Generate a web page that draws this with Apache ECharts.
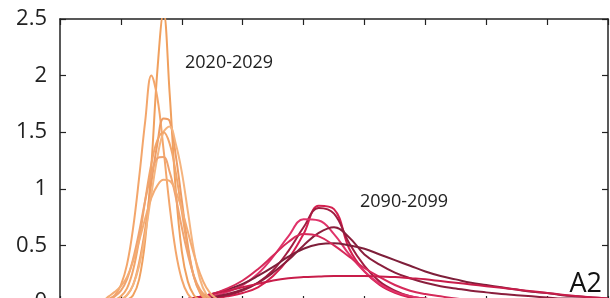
<!DOCTYPE html>
<html><head><meta charset="utf-8">
<script src="https://cdn.jsdelivr.net/npm/echarts@6/dist/echarts.min.js"></script>
<style>html,body{margin:0;padding:0;background:#fff;overflow:hidden}#c{width:610px;height:298px}</style>
</head><body><div id="c"></div>
<script>
// x sample positions (arbitrary units, axis 0..9)
const orangeX = [0.6,0.7,0.8,0.9,1.0,1.1,1.2,1.3,1.4,1.5,1.6,1.7,1.8,1.9,2.0,2.1,2.2,2.3,2.4,2.5,2.6,2.7];
const o1 = [0,0,0,0,0.01,0.02,0.06,0.2,0.55,1.2,2.05,2.56,1.85,1.0,0.45,0.18,0.06,0.02,0,0,0,0];
const o2 = [0,0.01,0.03,0.06,0.15,0.33,0.65,1.1,1.6,2.0,1.8,1.35,0.85,0.45,0.2,0.07,0.02,0,0,0,0,0];
const o3 = [0,0,0,0.01,0.02,0.06,0.15,0.35,0.65,1.05,1.4,1.62,1.6,1.3,0.9,0.5,0.22,0.08,0.02,0,0,0];
const o4 = [0,0,0,0.01,0.02,0.06,0.15,0.32,0.6,0.95,1.28,1.5,1.55,1.4,1.15,0.8,0.45,0.2,0.07,0.02,0,0];
const o5 = [0,0,0.01,0.02,0.05,0.12,0.28,0.55,0.9,1.22,1.43,1.5,1.4,1.15,0.8,0.47,0.22,0.09,0.03,0.01,0,0];
const o6 = [0,0.01,0.02,0.05,0.1,0.2,0.38,0.62,0.9,1.13,1.27,1.28,1.15,0.93,0.66,0.42,0.23,0.11,0.05,0.02,0,0];
const o7 = [0,0.01,0.05,0.09,0.14,0.22,0.36,0.54,0.74,0.92,1.03,1.08,1.07,0.98,0.82,0.62,0.42,0.25,0.13,0.06,0.02,0];

const redX = [2.0,2.25,2.5,2.75,3.0,3.25,3.5,3.75,4.0,4.25,4.5,4.75,5.0,5.25,5.5,5.75,6.0,6.25,6.5,6.75,7.0,7.25,7.5,7.75,8.0,8.25,8.5,8.75,9.0];
const r1 = [0,0.01,0.03,0.05,0.08,0.13,0.23,0.38,0.6,0.85,0.82,0.47,0.27,0.15,0.08,0.04,0.02,0.01,0,0,0,0,0,0,0,0,0,0,0];
const r2 = [0,0.02,0.04,0.06,0.1,0.17,0.28,0.45,0.66,0.83,0.78,0.52,0.32,0.18,0.1,0.05,0.03,0.01,0,0,0,0,0,0,0,0,0,0,0];
const r3 = [0.01,0.03,0.05,0.09,0.15,0.25,0.4,0.58,0.73,0.72,0.6,0.42,0.27,0.16,0.09,0.05,0.03,0.01,0,0,0,0,0,0,0,0,0,0,0];
const r4 = [0.01,0.02,0.04,0.07,0.11,0.17,0.26,0.37,0.5,0.61,0.66,0.57,0.42,0.33,0.26,0.21,0.17,0.14,0.12,0.1,0.085,0.07,0.06,0.05,0.04,0.03,0.03,0.02,0.01];
const r5 = [0.02,0.04,0.07,0.11,0.16,0.23,0.31,0.4,0.47,0.51,0.52,0.5,0.47,0.42,0.37,0.32,0.27,0.23,0.2,0.17,0.15,0.13,0.11,0.09,0.08,0.06,0.05,0.04,0.03];
const r6 = [0.02,0.04,0.07,0.12,0.19,0.29,0.41,0.53,0.6,0.58,0.5,0.4,0.3,0.22,0.15,0.1,0.07,0.05,0.03,0.02,0.01,0,0,0,0,0,0,0,0];
const r7 = [0.02,0.04,0.07,0.1,0.13,0.16,0.19,0.21,0.22,0.225,0.23,0.23,0.23,0.225,0.22,0.21,0.2,0.185,0.17,0.155,0.14,0.125,0.11,0.095,0.08,0.065,0.05,0.04,0.03];

const yTickLabels = ['0','0.5','1','1.5','2','2.5'];

const orangeSeries = [o1,o2,o3,o4,o5,o6,o7];
const orangeColors = ['#F0A05E','#F3A66B','#EE9C63','#F5B47E','#F2A56A','#EFA36F','#F4AC74'];
const redSeries = [r1,r2,r3,r4,r5,r6,r7];
const redColors = ['#D4204F','#A01C40','#E0336A','#8A1E3C','#7E1F3A','#D62A5A','#C81D4A'];

function mk(xs, ys, color, w){
  return {type:'line', data: xs.map((x,i)=>[x, ys[i]]), smooth:0.4, showSymbol:false,
    lineStyle:{color:color, width:w}, clip:true, silent:true, animation:false};
}
const series = [];
redSeries.forEach((s,i)=>series.push(mk(redX, s, redColors[i], 2)));
orangeSeries.forEach((s,i)=>series.push(mk(orangeX, s, orangeColors[i], 2)));

const axisColor = '#222';
function axisBase(extra){
  return Object.assign({
    axisLine:{show:true, onZero:false, lineStyle:{color:axisColor, width:1.5}},
    axisTick:{show:true, inside:true, length:6, lineStyle:{color:axisColor, width:1.2}},
    axisLabel:{show:false}, splitLine:{show:false}
  }, extra);
}
const chart = echarts.init(document.getElementById('c'), null, {renderer:'canvas'});
chart.setOption({
  animation:false,
  backgroundColor:'#fff',
  grid:{left:60, right:2, top:19, bottom:-4, outerBoundsMode:'none', containLabel:false},
  xAxis:[
    axisBase({type:'value', min:0, max:9, interval:1, position:'bottom'}),
    axisBase({type:'value', min:0, max:9, interval:1, position:'top'})
  ],
  yAxis:[
    axisBase({type:'value', min:0, max:2.5, interval:0.5, position:'left',
     axisLabel:{show:true, margin:13, fontSize:22, color:'#222', fontFamily:'Open Sans',
       formatter:(v)=>{const i=Math.round(v/0.5); return yTickLabels[i] ?? '';}}}),
    axisBase({type:'value', min:0, max:2.5, interval:0.5, position:'right'})
  ],
  series: series,
  graphic:[
    {type:'text', x:185, y:63, style:{text:'2020-2029', font:'18px "Open Sans"', fill:'#222', textVerticalAlign:'middle'}},
    {type:'text', x:360, y:202, style:{text:'2090-2099', font:'18px "Open Sans"', fill:'#222', textVerticalAlign:'middle'}},
    {type:'text', x:602, y:284, style:{text:'A2', font:'27px "Open Sans"', fill:'#111', textAlign:'right', textVerticalAlign:'middle'}}
  ]
});
</script></body></html>
